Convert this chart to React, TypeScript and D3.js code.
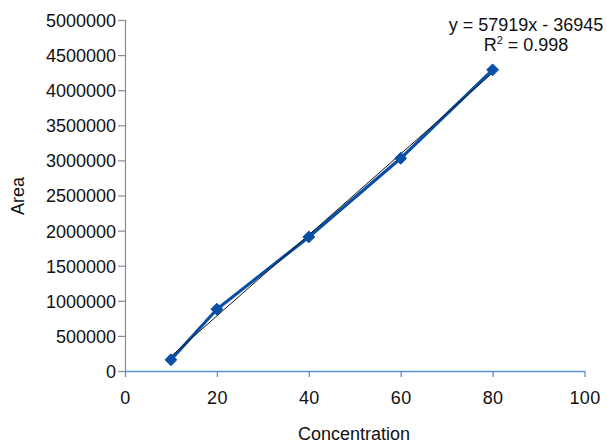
import React, { useRef, useEffect } from 'react';
import * as d3 from 'd3';

const concentrations = [10, 20, 40, 60, 80];
const areas = [160000, 880000, 1910000, 3030000, 4290000];
const xTicks = [0, 20, 40, 60, 80, 100];
const yTicks = [0, 500000, 1000000, 1500000, 2000000, 2500000, 3000000, 3500000, 4000000, 4500000, 5000000];
const equationLabel = 'y = 57919x - 36945';
const rSquaredValue = ' = 0.998';

export default function App() {
  const svgRef = useRef<SVGSVGElement>(null);

  useEffect(() => {
    const svg = d3.select(svgRef.current);
    svg.selectAll('*').remove();

    const width = 607;
    const height = 443;
    const font = '"Liberation Sans", Arial, Helvetica, sans-serif';

    const x = d3.scaleLinear().domain([0, 100]).range([125, 584.5]);
    const y = d3.scaleLinear().domain([0, 5000000]).range([371, 20]);

    // y axis (grey, ticks left)
    const yAxis = svg.append('g')
      .attr('transform', `translate(${x(0)},0)`)
      .call(d3.axisLeft(y).tickValues(yTicks).tickSize(7).tickPadding(2).tickFormat(d3.format('d')));
    yAxis.select('.domain').attr('stroke', '#8a8a8a').attr('stroke-width', 1.2);
    yAxis.selectAll('.tick line').attr('stroke', '#8a8a8a').attr('stroke-width', 1.2);
    yAxis.selectAll('.tick text')
      .attr('font-family', font)
      .attr('font-size', 18)
      .attr('fill', '#111')
      .attr('dy', '0.36em');

    // x axis (light blue, ticks down)
    const xAxis = svg.append('g')
      .attr('transform', `translate(0,${y(0)})`)
      .call(d3.axisBottom(x).tickValues(xTicks).tickSize(6).tickPadding(14).tickSizeOuter(0));
    xAxis.select('.domain').attr('stroke', '#5b8fd6').attr('stroke-width', 1.3);
    xAxis.selectAll('.tick line').attr('stroke', '#5b8fd6').attr('stroke-width', 1.3);
    xAxis.selectAll('.tick text')
      .attr('font-family', font)
      .attr('font-size', 18)
      .attr('fill', '#111')
      .attr('letter-spacing', 0.4);

    // axis titles
    svg.append('text')
      .attr('x', 354)
      .attr('y', 440)
      .attr('text-anchor', 'middle')
      .attr('font-family', font)
      .attr('font-size', 18)
      .attr('fill', '#111')
      .text('Concentration');

    svg.append('text')
      .attr('transform', `translate(24,196) rotate(-90)`)
      .attr('text-anchor', 'middle')
      .attr('font-family', font)
      .attr('font-size', 18)
      .attr('fill', '#111')
      .text('Area');

    const points = concentrations.map((c, i) => ({ c, a: areas[i] }));

    // data line
    svg.append('path')
      .datum(points)
      .attr('fill', 'none')
      .attr('stroke', '#0a4fa6')
      .attr('stroke-width', 3.2)
      .attr('stroke-linejoin', 'round')
      .attr('d', d3.line<{ c: number; a: number }>().x(d => x(d.c)).y(d => y(d.a)));

    // linear trendline (least squares over the points)
    const mx = d3.mean(concentrations) as number;
    const my = d3.mean(areas) as number;
    const sxy = d3.sum(points, d => (d.c - mx) * (d.a - my));
    const sxx = d3.sum(points, d => (d.c - mx) ** 2);
    const slope = sxy / sxx;
    const icpt = my - slope * mx;
    const xMin = d3.min(concentrations) as number;
    const xMax = d3.max(concentrations) as number;
    svg.append('line')
      .attr('x1', x(xMin)).attr('y1', y(slope * xMin + icpt))
      .attr('x2', x(xMax)).attr('y2', y(slope * xMax + icpt))
      .attr('stroke', '#111')
      .attr('stroke-width', 1);

    // diamond markers
    svg.selectAll('.marker')
      .data(points)
      .enter()
      .append('path')
      .attr('class', 'marker')
      .attr('transform', d => `translate(${x(d.c)},${y(d.a)})`)
      .attr('d', d3.symbol().type(d3.symbolDiamond2).size(90)())
      .attr('fill', '#0a4fa6')
      .attr('stroke', '#0a4fa6')
      .attr('stroke-width', 1);

    // equation labels
    svg.append('text')
      .attr('x', 526)
      .attr('y', 31)
      .attr('text-anchor', 'middle')
      .attr('font-family', font)
      .attr('font-size', 18)
      .attr('fill', '#111')
      .text(equationLabel);

    const r2 = svg.append('text')
      .attr('x', 526)
      .attr('y', 51)
      .attr('text-anchor', 'middle')
      .attr('font-family', font)
      .attr('font-size', 18)
      .attr('fill', '#111');
    r2.append('tspan').text('R');
    r2.append('tspan').attr('font-size', 11).attr('dy', -7).text('2');
    r2.append('tspan').attr('dy', 7).text(rSquaredValue);

    svg.attr('width', width).attr('height', height);
  }, []);

  return (
    <svg
      ref={svgRef}
      width={607}
      height={443}
      style={{ position: 'absolute', left: 0, top: 0, background: '#fff' }}
    />
  );
}
